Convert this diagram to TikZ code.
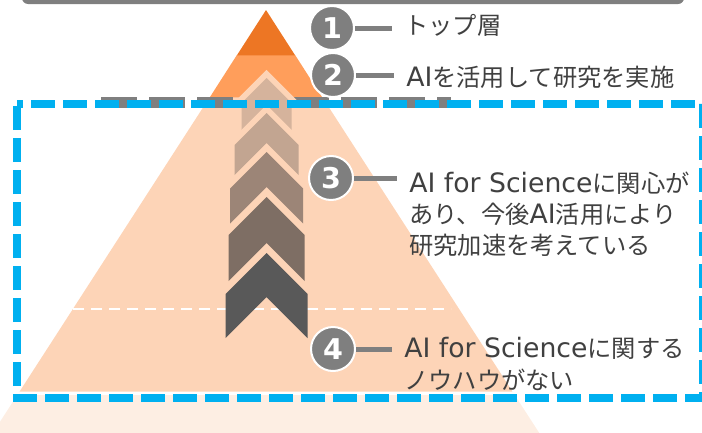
\documentclass[tikz,border=0pt]{standalone}
\usepackage{fontspec}
\setmainfont{DejaVu Sans}[Scale=1.1]
\newfontfamily\cjk{Noto Sans CJK JP}
\usetikzlibrary{calc}
\definecolor{tierone}{HTML}{ED7624}
\definecolor{tiertwo}{HTML}{FF9E5B}
\definecolor{peach}{HTML}{FDD4B7}
\definecolor{lightpeach}{HTML}{FDEEE3}
\definecolor{circgray}{HTML}{7F7F7F}
\definecolor{textgray}{HTML}{404040}
\definecolor{bluedash}{HTML}{00B0F0}
\definecolor{chevA}{HTML}{D5B39C}
\definecolor{chevB}{HTML}{C2A591}
\definecolor{chevC}{HTML}{9C8577}
\definecolor{chevD}{HTML}{7E6E64}
\definecolor{chevE}{HTML}{595959}
\newcommand\mychevout[4]{%
  \draw[chevline] (#1-#3,#2+#3+#4) -- (#1-#3,#2+#3) -- (#1,#2) -- (#1+#3,#2+#3) -- (#1+#3,#2+#3+#4) -- (#1,#2+#4) -- cycle;}
\newcommand\mychevfill[5]{%
  \fill[#5] (#1-#3,#2+#3+#4) -- (#1-#3,#2+#3) -- (#1,#2) -- (#1+#3,#2+#3) -- (#1+#3,#2+#3+#4) -- (#1,#2+#4) -- cycle;}
\begin{document}
\begin{tikzpicture}[x=0.75pt,y=-0.75pt,
  chevline/.style={draw=peach,line width=8.5pt,line join=miter,miter limit=10},
  numcirc/.style={circle,fill=circgray,draw=white,line width=1.5pt,minimum size=33pt,inner sep=0pt,text=white,font=\fontsize{19.5}{19.5}\selectfont\bfseries},
  lbl/.style={text=textgray,font=\fontsize{18.2}{23.3}\selectfont,inner sep=0pt,align=left,anchor=west},
  conn/.style={draw=circgray,line width=3.75pt,shorten >=9pt},
  bluebox/.style={draw=bluedash,line width=6pt,dash pattern=on 18pt off 6pt,dash phase=13.5pt},
  graydash/.style={draw=circgray,line width=8.25pt,dash pattern=on 27pt off 9pt},
  whitedash/.style={draw=white,line width=1.9pt,dash pattern=on 8.25pt off 5.25pt}]
\useasboundingbox (0,0) rectangle (702,432);
\clip (0,0) rectangle (702,432);
% top bar
\fill[circgray,rounded corners=4.5pt] (22,-20) rectangle (684,4);
% pyramid tiers
\fill[lightpeach] (17.3,395) -- (514.7,395) -- (543.8,440) -- (-11.8,440) -- cycle;
\fill[peach] (209.8,97) -- (322.2,97) -- (512.4,391.5) -- (19.6,391.5) -- cycle;
\fill[tiertwo] (236.9,55) -- (295.1,55) -- (322.2,97.3) -- (209.8,97.3) -- cycle;
\fill[tierone] (266,10) -- (295.1,55.3) -- (236.9,55.3) -- cycle;
% gray dashes
\draw[graydash] (101,102.5) -- (451,102.5);
% chevrons
\mychevout{266.5}{78}{25}{27}\mychevfill{266.5}{78}{25}{27}{chevA}
\mychevout{266.5}{113}{32}{30}\mychevfill{266.5}{113}{32}{30}{chevB}
\mychevout{266.5}{152}{36.5}{35}\mychevfill{266.5}{152}{36.5}{35}{chevC}
\mychevout{266.5}{197}{38}{46}\mychevfill{266.5}{197}{38}{46}{chevD}
\mychevout{266.5}{253}{41}{44}
\draw[whitedash] (73,309) -- (451,309);
\mychevfill{266.5}{253}{41}{44}{chevE}
% blue dashed box
\draw[bluebox] (17,104) -- (703,104) -- (703,398) -- (17,398) -- cycle;
% labels
\node[lbl] (t1) at (404,25) {\cjk トップ層};
\node[lbl] (t2) at (406,77) {AI{\cjk を活用して研究を実施}};
\node[lbl] (t3) at (409,214.5) {AI for Science{\cjk に関心が}\\{\cjk あり、今後}AI{\cjk 活用により}\\{\cjk 研究加速を考えている}};
\node[lbl] (t4) at (404,364) {AI for Science{\cjk に関する}\\{\cjk ノウハウがない}};
% circles
\node[numcirc] (c1) at (332,28) {1};
\node[numcirc] (c2) at (333,75) {2};
\node[numcirc] (c3) at (331,178) {3};
\node[numcirc] (c4) at (333,349) {4};
\draw[conn] (c1.east) -- (c1.east -| t1.west);
\draw[conn] (c2.east) -- (c2.east -| t2.west);
\draw[conn] (c3.east) -- (c3.east -| t3.west);
\draw[conn] (c4.east) -- (c4.east -| t4.west);
\end{tikzpicture}
\end{document}
